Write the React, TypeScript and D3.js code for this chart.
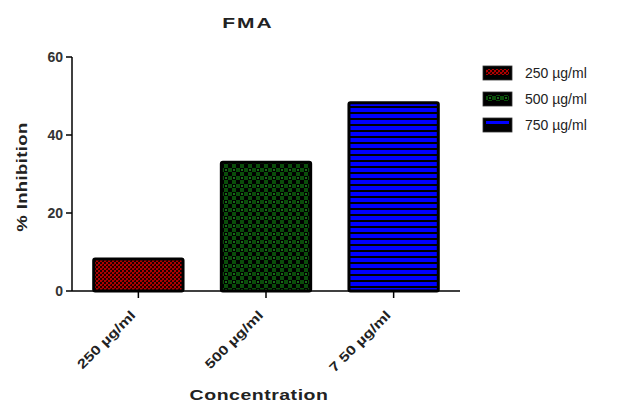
import React from "react";
import * as d3 from "d3";

const categories = ["250 µg/ml", "500 µg/ml", "7 50 µg/ml"];
const values = [8.2, 33, 48.3];
const legendLabels = ["250 µg/ml", "500 µg/ml", "750 µg/ml"];
const yTicks = [0, 20, 40, 60];
const patternIds = ["patRed", "patGreen", "patBlue"];

const W = 619;
const H = 403;
const margin = { left: 72, top: 57, bottom: 291, right: 460 };

export default function App() {
  const y = d3.scaleLinear().domain([0, 60]).range([margin.bottom, margin.top]);
  const x = d3
    .scaleBand<string>()
    .domain(categories)
    .range([margin.left, margin.right])
    .paddingInner(0.3)
    .paddingOuter(0.17);

  const font = "'Liberation Sans', Arial, sans-serif";

  return (
    <svg width={W} height={H} style={{ position: "absolute", left: 0, top: 0 }}>
      <defs>
        <pattern id="patRed" width="4" height="4" patternUnits="userSpaceOnUse">
          <rect width="4" height="4" fill="#1a0000" />
          <rect x="0" y="0" width="2" height="2" fill="#b00000" />
          <rect x="2" y="2" width="2" height="2" fill="#b00000" />
          <rect x="2" y="0" width="1" height="1" fill="#700000" />
        </pattern>
        <pattern id="patGreen" width="8" height="8" patternUnits="userSpaceOnUse">
          <rect width="8" height="8" fill="#0a4d0a" />
          <rect x="0" y="0" width="4" height="4" fill="#000" />
          <rect x="4" y="4" width="4" height="4" fill="#000" />
          <rect x="1" y="1" width="2" height="2" fill="#1a6a1a" />
        </pattern>
        <pattern id="patBlue" width="6" height="6" patternUnits="userSpaceOnUse">
          <rect width="6" height="6" fill="#0000ff" />
          <rect x="0" y="4" width="6" height="2" fill="#000" />
        </pattern>
      </defs>

      <text
        transform="translate(248,28) scale(1.4,1)"
        textAnchor="middle"
        fontFamily={font}
        fontWeight="bold"
        fontSize={15}
        fill="#222"
        letterSpacing="1.5"
      >
        FMA
      </text>

      {/* bars */}
      {categories.map((c, i) => (
        <rect
          key={c}
          x={x(c)!}
          y={y(values[i])}
          width={x.bandwidth()}
          height={y(0) - y(values[i])}
          fill={`url(#${patternIds[i]})`}
          stroke="#000"
          strokeWidth={3}
          rx={1.5}
        />
      ))}

      {/* y axis */}
      <line x1={margin.left} x2={margin.left} y1={y(60)} y2={y(0)} stroke="#000" strokeWidth={1.5} />
      {yTicks.map((t) => (
        <g key={t}>
          <line x1={margin.left - 6} x2={margin.left} y1={y(t)} y2={y(t)} stroke="#000" strokeWidth={1.5} />
          <text x={margin.left - 9} y={y(t)} dy="0.35em" textAnchor="end" fontFamily={font} fontWeight="bold" fontSize={14} fill="#333">
            {t}
          </text>
        </g>
      ))}
      <text
        transform={`translate(27,${(y(0) + y(60)) / 2 + 3}) rotate(-90) scale(1.32,1)`}
        textAnchor="middle"
        fontFamily={font}
        fontWeight="bold"
        fontSize={14}
        fill="#222"
        letterSpacing="0.3"
      >
        % Inhibition
      </text>

      {/* x axis */}
      <line x1={margin.left} x2={margin.right} y1={y(0)} y2={y(0)} stroke="#000" strokeWidth={1.5} />
      {categories.map((c) => {
        const cx = x(c)! + x.bandwidth() / 2;
        return (
          <g key={c}>
            <line x1={cx} x2={cx} y1={y(0)} y2={y(0) + 7} stroke="#000" strokeWidth={1.5} />
            <text
              transform={`translate(${cx - 2},${y(0) + 25}) rotate(-45) scale(1.28,1)`}
              textAnchor="end"
              fontFamily={font}
              fontWeight="bold"
              fontSize={13}
              fill="#222"
            >
              {c}
            </text>
          </g>
        );
      })}
      <text
        transform="translate(259,400) scale(1.3,1)"
        textAnchor="middle"
        fontFamily={font}
        fontWeight="bold"
        fontSize={15}
        fill="#222"
        letterSpacing="0.4"
      >
        Concentration
      </text>

      {/* legend */}
      {legendLabels.map((l, i) => {
        const ly = 66 + i * 26;
        return (
          <g key={l}>
            <rect x={483} y={ly} width={29} height={14} fill="#000" stroke="#333" strokeWidth={0.8} />
            <rect x={486} y={ly + 3} width={23} height={i === 2 ? 3 : 6} fill={`url(#${patternIds[i]})`} />
            <text x={525} y={ly + 7} dy="0.35em" fontFamily={font} fontSize={14} fill="#222">
              {l}
            </text>
          </g>
        );
      })}
    </svg>
  );
}
